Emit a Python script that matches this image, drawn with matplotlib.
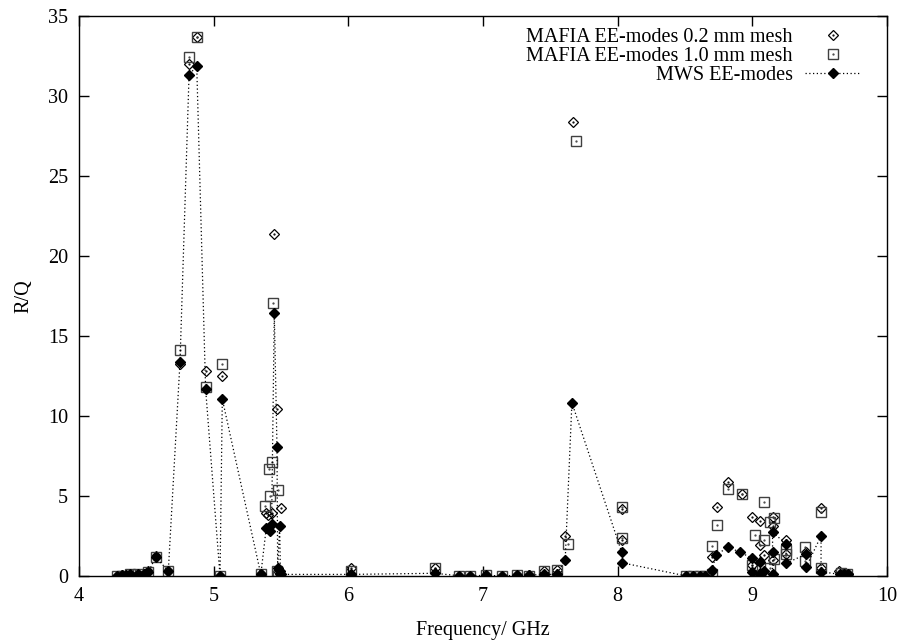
#!/usr/bin/env python3
"""
R/Q of EE-modes versus frequency: MAFIA (two mesh sizes) compared with MWS.
"""

import matplotlib
matplotlib.use("Agg")
import matplotlib.pyplot as plt
from matplotlib.legend_handler import HandlerTuple

# MAFIA EE-modes, 0.2 mm mesh (open diamonds)
mafia02_freq = [4.28, 4.317, 4.38, 4.44, 4.48, 4.515, 4.57, 4.663, 4.75, 4.817,
                4.874, 4.945, 5.047, 5.064, 5.35, 5.385, 5.405, 5.433, 5.45, 5.47,
                5.497, 5.475, 5.49, 6.02, 6.64, 6.82, 6.90, 7.02, 7.14, 7.25,
                7.34, 7.45, 7.546, 7.61, 7.665, 8.03, 8.03, 8.51, 8.56, 8.61,
                8.65, 8.70, 8.70, 8.734, 8.82, 8.92, 9.0, 9.0, 9.06, 9.06,
                9.09, 9.06, 9.15, 9.15, 9.15, 9.25, 9.25, 9.40, 9.51, 9.51,
                9.64, 9.68, 9.71]
mafia02_rq = [0.0, 0.05, 0.1, 0.15, 0.05, 0.3, 1.25, 0.3, 13.25, 31.98,
              33.67, 12.79, 0.0, 12.5, 0.1, 3.92, 3.8, 3.96, 21.36, 10.44,
              4.23, 0.3, 0.1, 0.48, 0.48, 0.02, 0.0, 0.05, 0.0, 0.05,
              0.05, 0.3, 0.4, 2.52, 28.4, 4.2, 2.25, 0.0, 0.0, 0.0,
              0.0, 0.3, 1.2, 4.33, 5.9, 5.1, 3.67, 0.7, 3.46, 1.94,
              1.31, 0.2, 3.67, 3.125, 1.0, 2.25, 1.375, 1.52, 4.27, 0.5,
              0.33, 0.1, 0.15]

# MAFIA EE-modes, 1.0 mm mesh (open squares)
mafia10_freq = [4.28, 4.317, 4.38, 4.44, 4.48, 4.515, 4.57, 4.663, 4.75, 4.817,
                4.874, 4.94, 5.047, 5.06, 5.35, 5.38, 5.41, 5.42, 5.435, 5.443,
                5.48, 5.47, 5.475, 6.02, 6.64, 6.82, 6.90, 7.02, 7.14, 7.25,
                7.34, 7.45, 7.546, 7.63, 7.69, 8.03, 8.03, 8.51, 8.56, 8.61,
                8.65, 8.70, 8.70, 8.74, 8.82, 8.92, 9.0, 9.02, 9.085, 9.085,
                9.06, 9.13, 9.16, 9.16, 9.13, 9.25, 9.25, 9.39, 9.39, 9.51,
                9.51, 9.66, 9.70]
mafia10_rq = [0.0, 0.0, 0.1, 0.15, 0.0, 0.25, 1.2, 0.3, 14.1, 32.46,
              33.67, 11.83, 0.0, 13.25, 0.1, 4.375, 6.69, 5.0, 7.15, 17.04,
              5.375, 0.3, 0.0, 0.3, 0.48, 0.0, 0.0, 0.05, 0.0, 0.05,
              0.0, 0.3, 0.36, 1.98, 27.2, 4.33, 2.4, 0.0, 0.0, 0.0,
              0.0, 0.1, 1.875, 3.19, 5.42, 5.1, 0.7, 2.56, 4.6, 2.25,
              0.0, 3.4, 3.64, 1.04, 0.52, 1.62, 1.35, 1.83, 0.94, 4.02,
              0.52, 0.2, 0.1]

# MWS EE-modes (filled diamonds joined by dotted line)
mws_freq = [4.28, 4.317, 4.35, 4.38, 4.44, 4.48, 4.515, 4.57, 4.663, 4.75,
            4.817, 4.874, 4.94, 5.047, 5.064, 5.35, 5.39, 5.42, 5.43, 5.45,
            5.47, 5.475, 5.49, 5.495, 5.50, 6.02, 6.64, 6.82, 6.90, 7.02,
            7.14, 7.25, 7.34, 7.45, 7.546, 7.61, 7.66, 8.03, 8.03, 8.51,
            8.56, 8.61, 8.65, 8.70, 8.73, 8.82, 8.91, 9.0, 9.0, 9.06,
            9.06, 9.09, 9.15, 9.15, 9.15, 9.25, 9.25, 9.40, 9.40, 9.51,
            9.51, 9.65, 9.68, 9.71]
mws_rq = [0.02, 0.05, 0.05, 0.1, 0.15, 0.1, 0.25, 1.2, 0.3, 13.4,
          31.3, 31.9, 11.69, 0.0, 11.06, 0.1, 2.98, 2.83, 3.25, 16.42,
          8.08, 0.5, 3.15, 0.3, 0.1, 0.1, 0.17, 0.02, 0.0, 0.05,
          0.0, 0.05, 0.05, 0.1, 0.1, 0.98, 10.83, 1.48, 0.83, 0.0,
          0.0, 0.0, 0.0, 0.37, 1.31, 1.81, 1.48, 1.1, 0.23, 0.9,
          0.1, 0.3, 0.1, 1.52, 2.75, 2.0, 0.79, 1.375, 0.58, 2.5,
          0.27, 0.1, 0.15, 0.1]

x_ticks = [4, 5, 6, 7, 8, 9, 10]
y_ticks = [0, 5, 10, 15, 20, 25, 30, 35]

plt.rcParams['font.family'] = ['Liberation Serif', 'DejaVu Serif']
plt.rcParams['font.size'] = 14.5

fig = plt.figure(figsize=(9.0, 6.41), dpi=100)
ax = fig.add_axes([0.0878, 0.1014, 0.8978, 0.8736])

# MAFIA 0.2 mm mesh
d02, = ax.plot(mafia02_freq, mafia02_rq, linestyle='none', marker='D', markersize=4.6,
               markerfacecolor='none', markeredgecolor='black', markeredgewidth=0.9)
d02c, = ax.plot(mafia02_freq, mafia02_rq, linestyle='none', marker='.', markersize=1.2,
                color='black')

# MAFIA 1.0 mm mesh
s10, = ax.plot(mafia10_freq, mafia10_rq, linestyle='none', marker='s', markersize=6.5,
               markerfacecolor='none', markeredgecolor='#404040', markeredgewidth=1.0)
s10c, = ax.plot(mafia10_freq, mafia10_rq, linestyle='none', marker='.', markersize=1.2,
                color='#404040')

# MWS
mws, = ax.plot(mws_freq, mws_rq, linestyle=(0, (1, 2)), linewidth=0.9, color='black',
               marker='D', markersize=4.8, markerfacecolor='black', markeredgecolor='black')

ax.set_xlim(4, 10)
ax.set_ylim(0, 35)
ax.set_xticks(x_ticks)
ax.set_yticks(y_ticks)
ax.tick_params(direction='in', length=7, width=1, top=True, right=True, pad=8)
for sp in ax.spines.values():
    sp.set_linewidth(1)

ax.set_xlabel('Frequency/ GHz', labelpad=11)
ax.set_ylabel('R/Q', labelpad=10)

ax.legend([(d02, d02c), (s10, s10c), mws],
          ['MAFIA EE-modes 0.2 mm mesh', 'MAFIA EE-modes 1.0 mm mesh', 'MWS EE-modes'],
          handler_map={tuple: HandlerTuple(ndivide=1, pad=0)},
          loc='upper right', bbox_to_anchor=(0.988, 1.008), frameon=False,
          markerfirst=False, handlelength=2.8, handletextpad=0.6,
          labelspacing=0.0, borderpad=0.3)

fig.savefig('out.png', dpi=100)
